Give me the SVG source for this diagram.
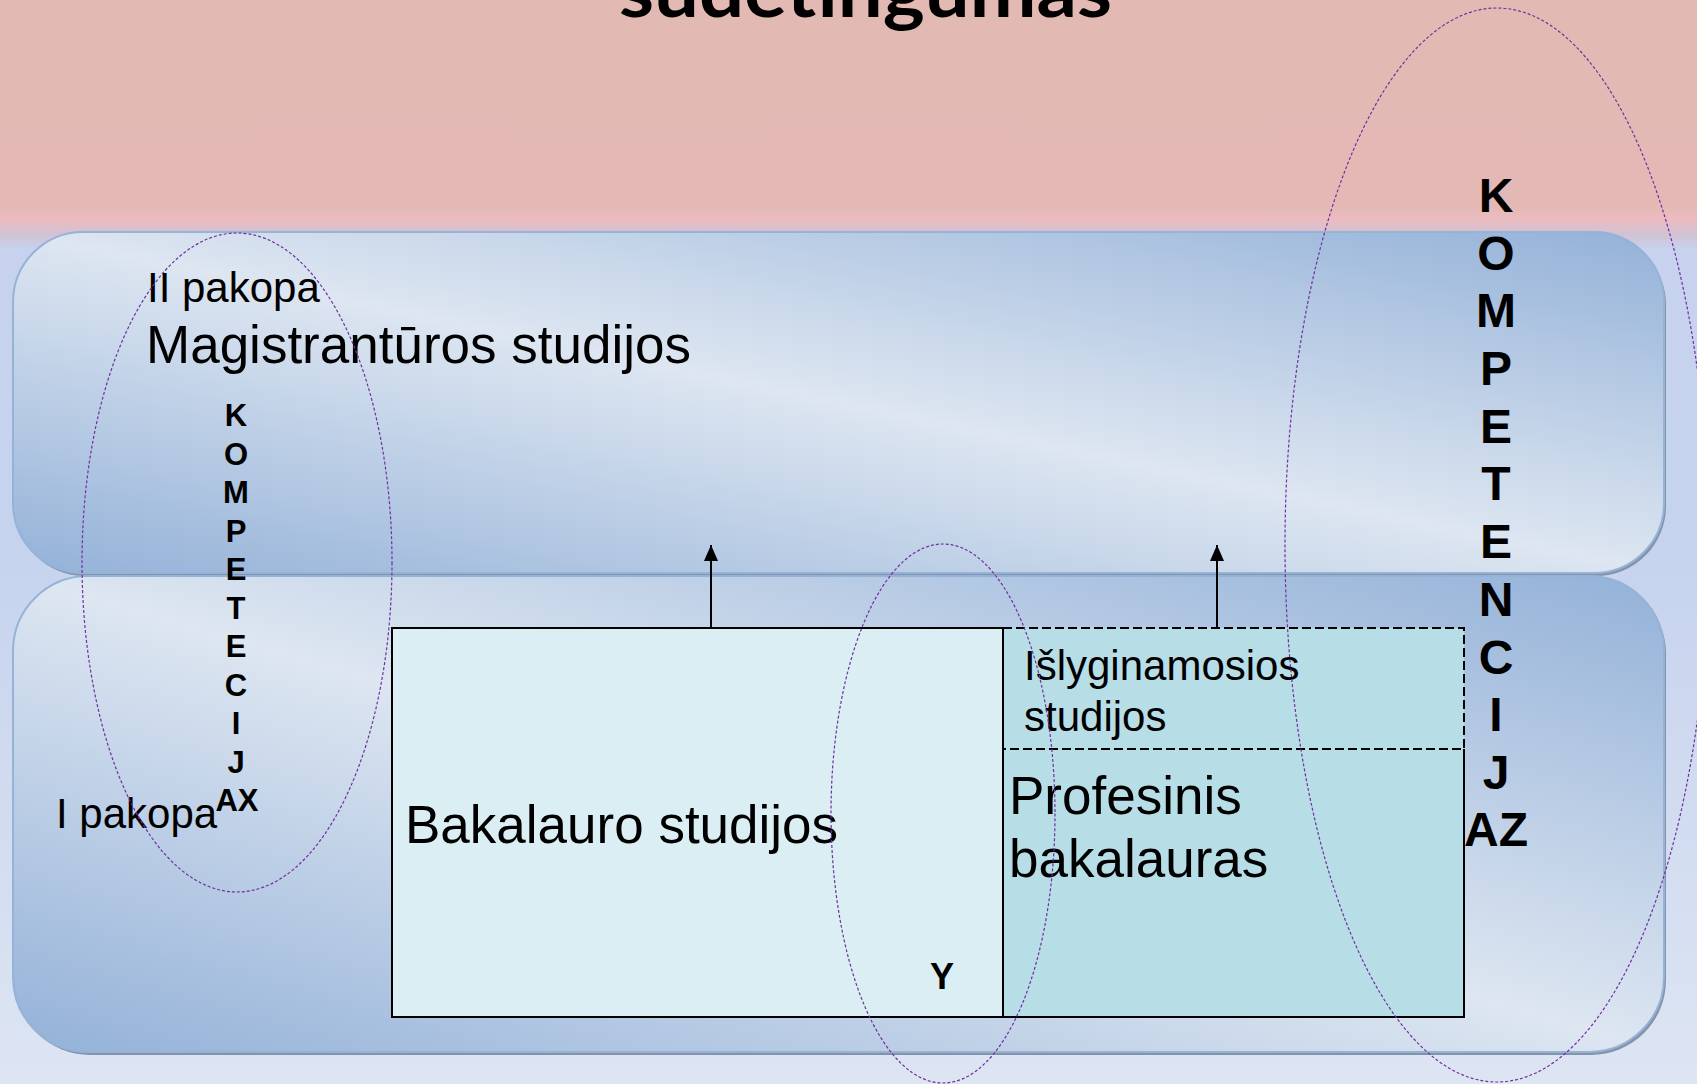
<svg xmlns="http://www.w3.org/2000/svg" width="1697" height="1084" viewBox="0 0 1697 1084">
  <defs>
    <linearGradient id="bg" x1="0" y1="0" x2="0" y2="1">
      <stop offset="0" stop-color="#E3B9B4"/>
      <stop offset="0.19" stop-color="#E4B9B5"/>
      <stop offset="0.202" stop-color="#EBBCC0"/>
      <stop offset="0.215" stop-color="#D3C1D2"/>
      <stop offset="0.23" stop-color="#C6D2EE"/>
      <stop offset="0.5" stop-color="#C6D3EE"/>
      <stop offset="1" stop-color="#DDE5F3"/>
    </linearGradient>
    <linearGradient id="box" x1="0" y1="1" x2="1" y2="0">
      <stop offset="0" stop-color="#93B1D8"/>
      <stop offset="0.5" stop-color="#DDE6F1"/>
      <stop offset="1" stop-color="#93B1D8"/>
    </linearGradient>
    <marker id="arr" markerWidth="16" markerHeight="14" refX="16" refY="7" orient="auto" markerUnits="userSpaceOnUse" viewBox="0 0 16 14">
      <path d="M0,0 L16,7 L0,14 Z" fill="#000"/>
    </marker>
  </defs>
  <style>
    .shadow { fill: #8493AA; }
    .tier { fill: url(#box); stroke: #95B3D7; stroke-width: 2; }
    .lbl { font-family: "Liberation Sans", Arial, sans-serif; fill: #000; }
    .kb { font-family: "Liberation Sans", Arial, sans-serif; font-weight: bold; fill: #000; text-anchor: middle; }
    .oval { fill: none; stroke: #7030A0; stroke-width: 1.2; stroke-dasharray: 3 2; }
    .solid { stroke: #000; stroke-width: 2; fill: none; }
    .dash { stroke: #000; stroke-width: 2; fill: none; stroke-dasharray: 9 4; }
    .conn { stroke: #000; stroke-width: 2; fill: none; }
  </style>

  <rect x="0" y="0" width="1697" height="1084" fill="url(#bg)"/>

  <g id="title">
    <text x="619" y="17" font-family="Lato, 'Open Sans', sans-serif" font-weight="bold" font-size="72" textLength="493" lengthAdjust="spacingAndGlyphs">sudėtingumas</text>
  </g>

  <g id="tier-2">
    <rect class="shadow" x="15" y="235" width="1651" height="341" rx="70" ry="70"/>
    <rect class="tier" x="13" y="232" width="1651" height="341" rx="70" ry="70"/>
    <text class="lbl" x="147" y="302" font-size="42">II pakopa</text>
    <text class="lbl" x="146" y="363" font-size="53">Magistrantūros studijos</text>
  </g>

  <g id="tier-1">
    <rect class="shadow" x="15" y="579" width="1651" height="476" rx="75" ry="75"/>
    <rect class="tier" x="13" y="576" width="1651" height="476" rx="75" ry="75"/>
    <text class="lbl" x="56" y="828" font-size="42">I pakopa</text>
  </g>

  <g id="bakalauro">
    <rect x="392" y="628" width="611" height="389" fill="#DAEEF3" stroke="#000" stroke-width="2"/>
    <text class="lbl" x="405" y="843" font-size="53">Bakalauro studijos</text>
    <text class="kb" x="942" y="989" font-size="36">Y</text>
  </g>

  <g id="profesinis">
    <rect x="1003" y="749" width="461" height="268" fill="#B7DDE7"/>
    <path class="solid" d="M1003,749 V1017 H1464 V749"/>
    <text class="lbl" x="1009" y="814" font-size="53">Profesinis</text>
    <text class="lbl" x="1009" y="877" font-size="53">bakalauras</text>
  </g>

  <g id="islyginamosios">
    <rect x="1003" y="628" width="461" height="121" fill="#B7DDE7"/>
    <path class="dash" d="M1003,628 H1464 V749 H1003"/>
    <line class="solid" x1="1003" y1="628" x2="1003" y2="749"/>
    <text class="lbl" x="1024" y="680" font-size="42">Išlyginamosios</text>
    <text class="lbl" x="1024" y="731" font-size="42">studijos</text>
  </g>

  <g id="connectors">
    <line class="conn" x1="711" y1="628" x2="711" y2="545" marker-end="url(#arr)"/>
    <line class="conn" x1="1217" y1="628" x2="1217" y2="545" marker-end="url(#arr)"/>
  </g>

  <g id="kompetencija-left">
    <ellipse class="oval" cx="237" cy="562.5" rx="155" ry="329.5"/>
    <text class="kb" font-size="31"><tspan x="236" y="426">K</tspan><tspan x="236" y="464.5">O</tspan><tspan x="236" y="503">M</tspan><tspan x="236" y="541.5">P</tspan><tspan x="236" y="580">E</tspan><tspan x="236" y="618.5">T</tspan><tspan x="236" y="657">E</tspan><tspan x="236" y="695.5">C</tspan><tspan x="236" y="734">I</tspan><tspan x="236" y="772.5">J</tspan><tspan x="237" y="811">AX</tspan></text>
  </g>

  <g id="kompetencija-middle">
    <ellipse class="oval" cx="943" cy="813.5" rx="112" ry="269.5"/>
  </g>

  <g id="kompetencija-right">
    <ellipse class="oval" cx="1497" cy="545" rx="212" ry="537"/>
    <text class="kb" font-size="48"><tspan x="1496" y="212">K</tspan><tspan x="1496" y="270">O</tspan><tspan x="1496" y="327">M</tspan><tspan x="1496" y="385">P</tspan><tspan x="1496" y="443">E</tspan><tspan x="1496" y="500">T</tspan><tspan x="1496" y="558">E</tspan><tspan x="1496" y="616">N</tspan><tspan x="1496" y="674">C</tspan><tspan x="1496" y="731">I</tspan><tspan x="1496" y="789">J</tspan><tspan x="1496" y="846">AZ</tspan></text>
  </g>
</svg>
